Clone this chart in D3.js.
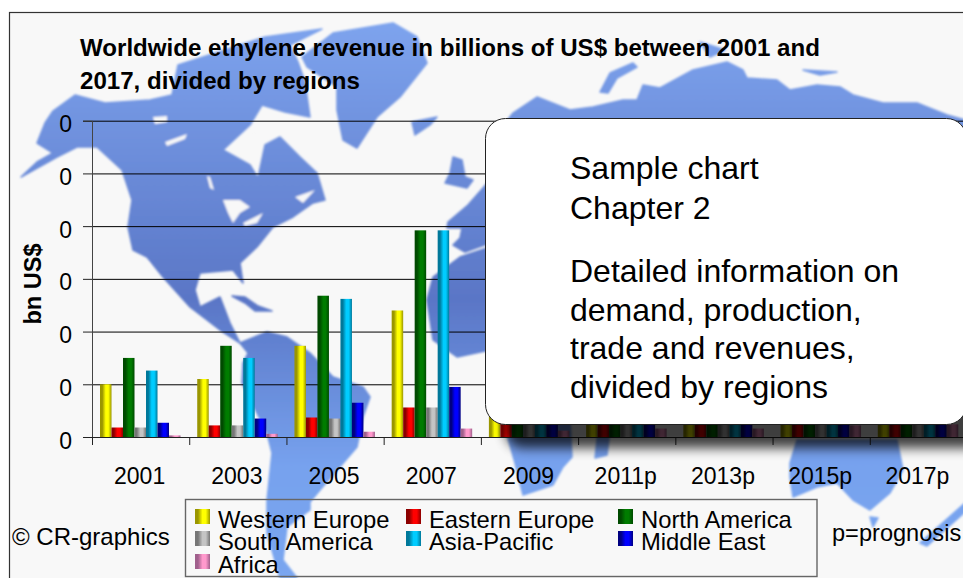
<!DOCTYPE html>
<html>
<head>
<meta charset="utf-8">
<script src="https://cdn.jsdelivr.net/npm/d3@7"></script>
<style>
  html, body { margin: 0; padding: 0; background: #fff; }
  svg { display: block; }
  text { font-family: "Liberation Sans", Arial, sans-serif; fill: #000; }
  .axis text { font-size: 23px; }
</style>
</head>
<body>
<svg id="chart" width="963" height="578"></svg>
<script>
const years = ["2001", "2003", "2005", "2007", "2009", "2011p", "2013p", "2015p", "2017p"];
const regions = ["Western Europe", "Eastern Europe", "North America", "South America", "Asia-Pacific", "Middle East", "Africa"];
const yTicks = [0, 10, 20, 30, 40, 50, 60];

// the later years sit behind the callout, only the lowest part of those bars can be read
const westernEurope = [10, 11, 17.3, 24, 27, 29, 31, 33, 35];
const easternEurope = [1.8, 2.2, 3.7, 5.6, 6.3, 7, 7.6, 8.2, 9];
const northAmerica = [15, 17.3, 26.8, 39.2, 43, 46, 49, 52, 55];
const southAmerica = [1.8, 2.2, 3.5, 5.6, 6.3, 7, 7.6, 8.2, 9];
const asiaPacific = [12.6, 15, 26.2, 39.2, 44, 47, 50, 53, 56];
const middleEast = [2.7, 3.5, 6.5, 9.5, 11, 12, 13, 14, 15];
const africa = [0.3, 0.6, 1, 1.6, 1.2, 1.6, 1.6, 2.2, 2.4];
const seriesValues = [westernEurope, easternEurope, northAmerica, southAmerica, asiaPacific, middleEast, africa];

const barDark = ["#9a9600", "#8a0000", "#004a00", "#767676", "#00789a", "#000080", "#a0608c"];
const barBright = ["#ffff00", "#ff0000", "#007c00", "#c4c4c4", "#00ccff", "#0000ff", "#ff99cc"];

const titleLines = ["Worldwide ethylene revenue in billions of US$ between 2001 and", "2017, divided by regions"];
const calloutHead = ["Sample chart", "Chapter 2"];
const calloutBody = ["Detailed information on", "demand, production,", "trade and revenues,", "divided by regions"];

// rough outlines of the world map behind the chart
const land = [
  "M53,111L75,95L105,103L150,100L172,95L178,65L200,58L265,37L322,29L290,45L298,62L305,82L310,117L285,112L262,105L250,125L223,150L250,165L258,178L265,145L280,137L300,157L317,173L325,200L313,203L293,217L273,227L257,247L240,263L243,283L233,270L200,273L195,290L200,307L220,297L230,323L240,343L220,330L190,307L163,277L147,257L133,250L128,227L132,200L122,170L97,147L77,147L57,157L21,177L37,162L53,153L37,143L45,123Z",
  "M302,57L333,33L393,23L417,37L427,63L400,97L377,117L357,148L343,140L337,110L337,87L307,67Z",
  "M412,122L437,117L430,125L415,135Z",
  "M453,157L462,160L465,177L473,180L467,188L445,183L450,173Z",
  "M490,180L468,205L448,222L447,228L462,228L460,238L453,245L465,252L490,243Z",
  "M490,247L460,257L433,277L427,300L433,340L457,357L490,350Z",
  "M232,296L245,297L258,306L272,311L255,311L245,303Z",
  "M240,343L267,332L287,337L310,353L333,377L363,387L370,397L363,417L357,447L320,490L310,502L310,510L287,527L283,560L297,578L280,578L267,533L267,500L272,453L267,433L242,383L243,363L248,353Z",
  "M513,113L537,97L570,110L593,107L623,100L637,100L643,85L660,88L693,70L727,62L743,70L747,78L777,80L790,90L817,85L840,87L853,95L883,103L917,103L947,115L965,120L965,130L500,130Z",
  "M600,92L610,73L633,63L637,67L617,78L608,93Z",
  "M803,70L837,72L820,75Z",
  "M700,42L725,50L710,57Z",
  "M500,420L570,420L572,457L563,467L553,485L523,495L515,463L508,438Z",
  "M595,458L607,455L610,430L598,430Z",
  "M790,477L790,463L797,440L897,440L903,470L890,493L870,510L853,500L837,483L817,487L793,497Z",
  "M870,517L878,518L873,527Z",
  "M920,543L965,503L965,512L927,546Z"
];
const landHoles = [
  "M153,117L167,116L167,122L155,124Z",
  "M165,142L187,134L185,139L167,146Z",
  "M207,176L210,177L214,190L210,188Z",
  "M223,200L240,200L250,207L240,213L233,223L228,213Z",
  "M243,223L263,213L257,223L245,226Z",
  "M295,197L315,190L303,203Z",
  "M148,262L160,292L155,290L146,268Z",
  "M253,128L260,132L255,136Z"
];

const width = 963, height = 578;
const svg = d3.select("#chart");
const defs = svg.append("defs");

let mapFill = defs.append("linearGradient").attr("id", "mapFill")
    .attr("gradientUnits", "userSpaceOnUse")
    .attr("x1", 0).attr("x2", 0).attr("y1", 20).attr("y2", 578);
mapFill.append("stop").attr("offset", 0).attr("stop-color", "#7ea4ee");
mapFill.append("stop").attr("offset", 0.5).attr("stop-color", "#5a76c6");
mapFill.append("stop").attr("offset", 0.8).attr("stop-color", "#77a2ee");
mapFill.append("stop").attr("offset", 1).attr("stop-color", "#7aa6f0");

defs.append("filter").attr("id", "soft").append("feGaussianBlur").attr("stdDeviation", 1.1);
let shadowBlur = defs.append("filter").attr("id", "shadowBlur")
    .attr("x", "-10%").attr("y", "-10%").attr("width", "120%").attr("height", "120%");
shadowBlur.append("feGaussianBlur").attr("stdDeviation", 6);

regions.forEach((r, i) => {
    let g = defs.append("linearGradient").attr("id", "bar" + i);
    g.append("stop").attr("offset", 0).attr("stop-color", barDark[i]);
    g.append("stop").attr("offset", 0.2).attr("stop-color", barDark[i]);
    g.append("stop").attr("offset", 0.5).attr("stop-color", barBright[i]);
    g.append("stop").attr("offset", 0.72).attr("stop-color", barBright[i]);
    g.append("stop").attr("offset", 1).attr("stop-color", barDark[i]);
});

// panel
svg.append("rect").attr("x", 9.5).attr("y", 12.5)
    .attr("width", width).attr("height", height)
    .attr("fill", "#f8f8f8").attr("stroke", "#333").attr("stroke-width", 1.2);

// map
let map = svg.append("g").attr("filter", "url(#soft)");
map.selectAll("path.land").data(land).join("path").attr("class", "land")
    .attr("d", d => d).attr("fill", "url(#mapFill)")
    .attr("stroke", "url(#mapFill)").attr("stroke-width", 1.5).attr("stroke-linejoin", "round");
map.selectAll("path.hole").data(landHoles).join("path").attr("class", "hole")
    .attr("d", d => d).attr("fill", "#f8f8f8");

// scales
const x0 = d3.scaleBand().domain(years).range([92, 967]);
const x1 = d3.scaleBand().domain(regions).range([8, 88.5]);
const edge = d3.scaleLinear().domain([0, years.length]).range([92, 967]);
const y = d3.scaleLinear().domain([0, 60]).range([437, 120.7]);

// gridlines
svg.append("g")
    .attr("transform", "translate(92,0)")
    .call(d3.axisLeft(y).tickValues(yTicks).tickSize(-880).tickFormat(""))
    .call(g => g.select(".domain").remove())
    .selectAll("line").attr("stroke", "#000");

// bars
svg.append("g").selectAll("g").data(regions).join("g")
    .attr("fill", (d, i) => "url(#bar" + i + ")")
    .each(function(region, i) {
        d3.select(this).selectAll("rect").data(seriesValues[i]).join("rect")
            .attr("x", (d, j) => x0(years[j]) + x1(region))
            .attr("y", d => y(d))
            .attr("width", x1.bandwidth())
            .attr("height", d => y(0) - y(d));
    });

// axes
svg.append("g").attr("class", "axis")
    .attr("transform", "translate(92,0)")
    .call(d3.axisLeft(y).tickValues(yTicks).tickSize(9).tickPadding(11).tickFormat(() => "0"))
    .call(g => g.select(".domain").attr("stroke", "#444"))
    .call(g => g.selectAll("line").attr("stroke", "#222"))
    .call(g => g.selectAll("text").attr("dy", 11));

svg.append("g")
    .attr("transform", "translate(0," + y(0) + ")")
    .call(d3.axisBottom(edge).tickValues(d3.range(0, years.length)).tickSize(8).tickFormat(""))
    .call(g => g.select(".domain").attr("stroke", "#222"))
    .call(g => g.selectAll("line").attr("stroke", "#222"));

svg.append("g").attr("class", "axis")
    .attr("transform", "translate(-1," + y(0) + ")")
    .call(d3.axisBottom(x0).tickSize(0).tickPadding(31))
    .call(g => g.select(".domain").remove());

svg.append("text")
    .attr("transform", "translate(41,284) rotate(-90)")
    .attr("text-anchor", "middle")
    .attr("font-size", 23.5).attr("font-weight", "bold")
    .text("bn US$");

// title
svg.append("g").selectAll("text").data(titleLines).join("text")
    .attr("x", 80).attr("y", (d, i) => 56 + i * 33)
    .attr("font-size", 24.1).attr("font-weight", "bold")
    .text(d => d);

// callout with its shadow
svg.append("rect").attr("x", 505).attr("y", 140).attr("width", 480).attr("height", 308)
    .attr("rx", 18).attr("fill", "#000").attr("opacity", 0.75)
    .attr("filter", "url(#shadowBlur)");
svg.append("rect").attr("x", 485.5).attr("y", 118.5).attr("width", 481).attr("height", 306)
    .attr("rx", 20).attr("fill", "#fff").attr("stroke", "#222").attr("stroke-width", 1);

svg.append("g").selectAll("text").data(calloutHead).join("text")
    .attr("x", 570).attr("y", (d, i) => 179 + i * 40)
    .attr("font-size", 32).text(d => d);
svg.append("g").selectAll("text").data(calloutBody).join("text")
    .attr("x", 570).attr("y", (d, i) => 282 + i * 38.7)
    .attr("font-size", 32).text(d => d);

// legend
svg.append("rect").attr("x", 185.5).attr("y", 499.5).attr("width", 631.5).attr("height", 77)
    .attr("fill", "none").attr("stroke", "#666").attr("stroke-width", 1.4);

const legendCol = d3.scaleOrdinal().domain([0, 1, 2]).range([195, 406, 618]);
const legendRow = d3.scaleOrdinal().domain([0, 1, 2]).range([509, 531, 554]);
let legend = svg.append("g").selectAll("g").data(regions).join("g")
    .attr("transform", (d, i) => "translate(" + legendCol(i % 3) + "," + legendRow(Math.floor(i / 3)) + ")");
legend.append("rect").attr("width", 15).attr("height", 15)
    .attr("fill", (d, i) => "url(#bar" + i + ")");
legend.append("text").attr("x", 23).attr("y", 18.5)
    .attr("font-size", 23.8).text(d => d);

// notes
svg.append("text").attr("x", 12).attr("y", 545).attr("font-size", 24).text("© CR-graphics");
svg.append("text").attr("x", 832).attr("y", 541).attr("font-size", 23.6).text("p=prognosis");
</script>
</body>
</html>
